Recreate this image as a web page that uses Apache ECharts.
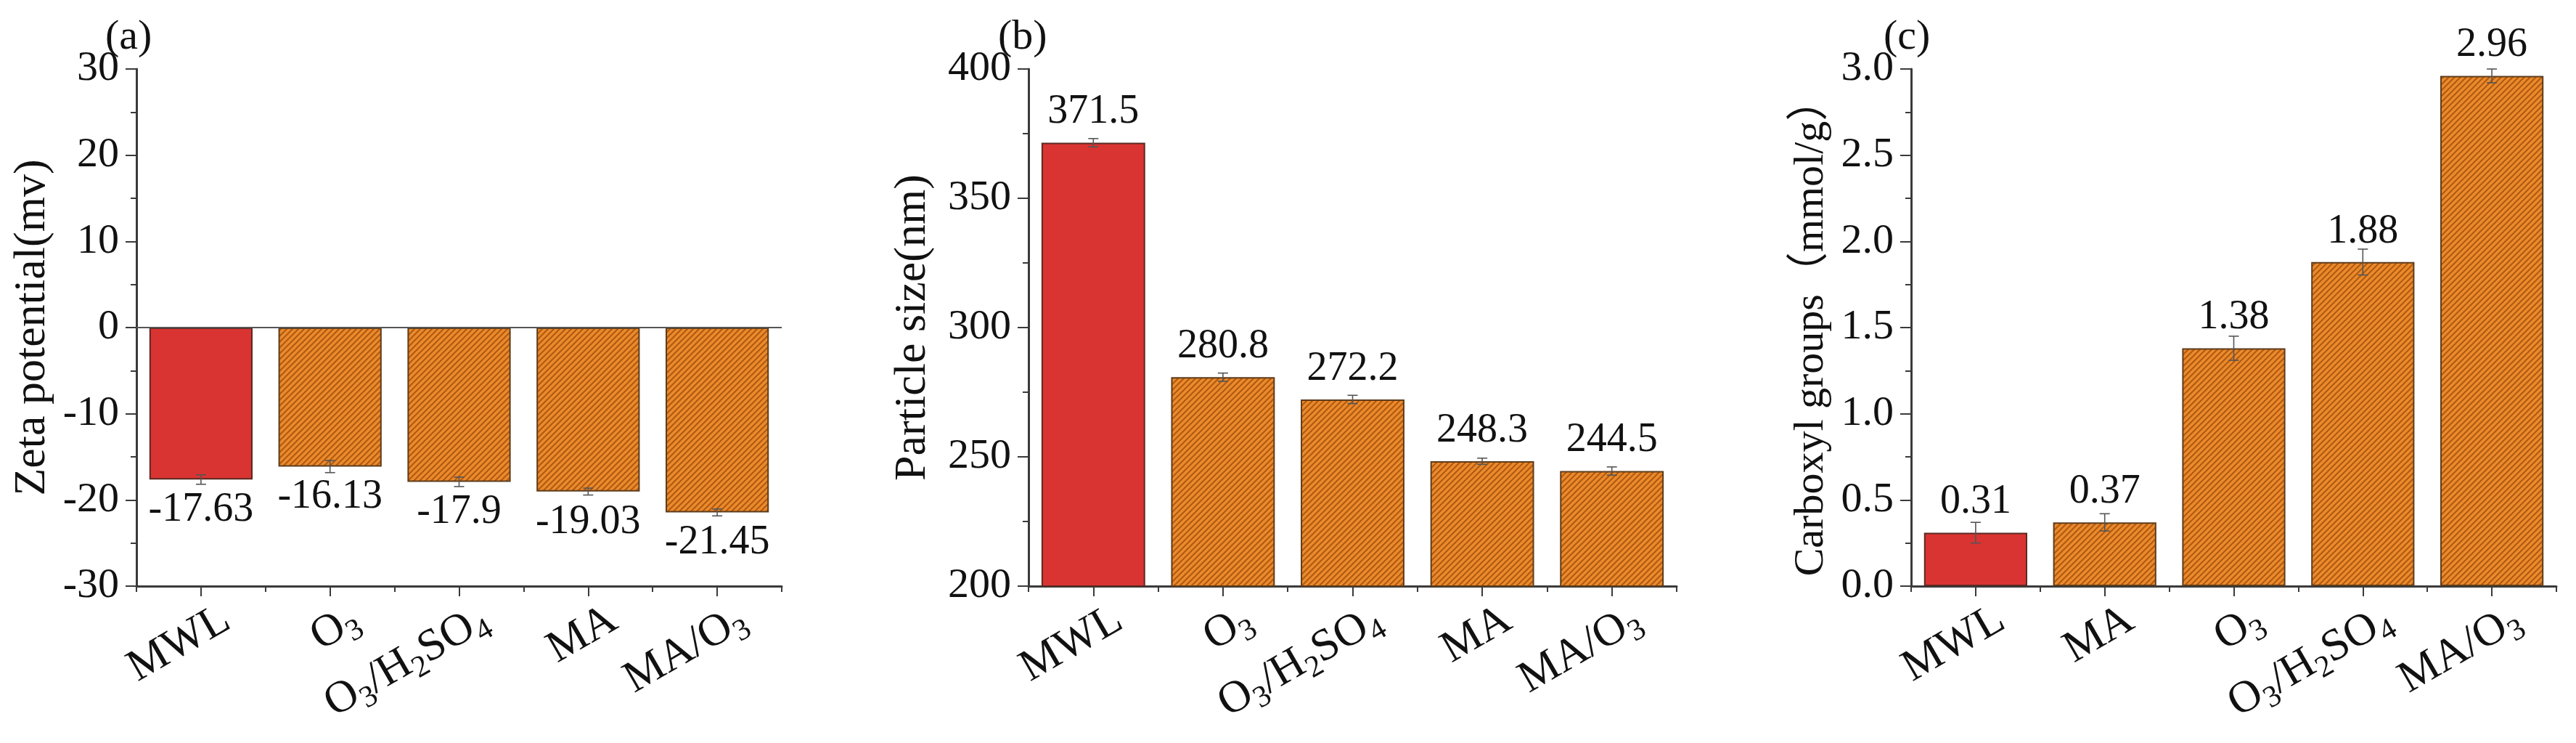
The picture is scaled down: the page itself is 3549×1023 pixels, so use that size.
<!DOCTYPE html>
<html>
<head>
<meta charset="utf-8">
<title>Zeta potential, particle size, carboxyl groups</title>
<script src="https://cdn.jsdelivr.net/npm/echarts@6/dist/echarts.min.js"></script>
<style>
  html, body { margin: 0; padding: 0; background: #fff; }
  #main { width: 3549px; height: 1023px; }
</style>
</head>
<body>
<div id="main"></div>
<script>
// ---- data ----
var catsA = ['MWL', 'O3', 'O3/H2SO4', 'MA', 'MA/O3'];
var zetaVals = [-17.63, -16.13, -17.9, -19.03, -21.45];
var zetaErr = [0.55, 0.7, 0.55, 0.4, 0.4];

var catsB = ['MWL', 'O3', 'O3/H2SO4', 'MA', 'MA/O3'];
var sizeVals = [371.5, 280.8, 272.2, 248.3, 244.5];
var sizeErr = [1.6, 1.6, 1.6, 1.2, 1.6];

var catsC = ['MWL', 'MA', 'O3', 'O3/H2SO4', 'MA/O3'];
var carbVals = [0.31, 0.37, 1.38, 1.88, 2.96];
var carbErr = [0.06, 0.05, 0.07, 0.075, 0.04];

var FONT = '"Liberation Serif", "Times New Roman", "Noto Sans CJK SC", serif';
var RED = '#da3432';
var ORANGE = '#ec8a2c';
var LBL_SHIFT = 0.2; // x labels sit a bit right of the tick

// diagonal hatch for the orange bars
function hatch() {
  var c = document.createElement('canvas');
  c.width = 8; c.height = 8;
  var g = c.getContext('2d');
  g.fillStyle = ORANGE;
  g.fillRect(0, 0, 8, 8);
  g.strokeStyle = '#ad5a12';
  g.lineWidth = 2;
  g.beginPath();
  g.moveTo(-2, 10); g.lineTo(10, -2);
  g.moveTo(-6, 6); g.lineTo(6, -6);
  g.moveTo(2, 14); g.lineTo(14, 2);
  g.stroke();
  return c;
}
var hatchPat = { image: hatch(), repeat: 'repeat' };

// O3 -> O{sub 3}
function subLabel(v) {
  return '{n|' + v.replace(/(\d)/g, '}{s|$1}{n|') + '}';
}
var richSub = {
  n: { fontFamily: FONT, fontSize: 62, color: '#111', lineHeight: 70 },
  s: { fontFamily: FONT, fontSize: 42, color: '#111', padding: [34, 0, 0, 0] }
};

var grids = [
  { left: 188, top: 95, width: 889, height: 712 },
  { left: 1417, top: 95, width: 893, height: 712 },
  { left: 2633, top: 95, width: 889, height: 712 }
];

var axisLine = { show: true, onZero: false, lineStyle: { color: '#3a3a3a', width: 3 } };

function catAxis(i, cats) {
  return {
    type: 'category', gridIndex: i, data: cats, position: 'bottom',
    axisLine: axisLine,
    axisTick: { show: true, alignWithLabel: true, length: 14, lineStyle: { color: '#3a3a3a', width: 2 } },
    axisLabel: { show: false }
  };
}
// second x axis: category names (slightly shifted) and the short ticks between bars
function labelAxis(i, cats) {
  var lv = cats.map(function (c, k) { return k + LBL_SHIFT; });
  var tv = [];
  for (var k = 0; k <= cats.length; k++) tv.push(k - 0.5);
  return {
    type: 'value', gridIndex: i, min: -0.5, max: cats.length - 0.5, position: 'bottom',
    axisLine: { show: false, onZero: false },
    axisTick: { show: true, length: 8, customValues: tv, lineStyle: { color: '#3a3a3a', width: 2 } },
    axisLabel: {
      show: true, customValues: lv, rotate: 30, margin: 42, rich: richSub,
      formatter: function (v) { return subLabel(cats[Math.round(v - LBL_SHIFT)]); }
    },
    splitLine: { show: false }
  };
}
function valAxis(i, min, max, step, name, gap, nameSize, fmt) {
  return {
    type: 'value', gridIndex: i, min: min, max: max, interval: step,
    name: name, nameLocation: 'middle', nameGap: gap,
    nameTextStyle: { fontFamily: FONT, fontSize: nameSize, color: '#111' },
    axisLine: axisLine,
    axisTick: { show: true, length: 15, lineStyle: { color: '#3a3a3a', width: 2 } },
    minorTick: { show: true, splitNumber: 2, length: 8, lineStyle: { color: '#3a3a3a', width: 2 } },
    axisLabel: { fontFamily: FONT, fontSize: 58, color: '#111', margin: 24, formatter: fmt },
    splitLine: { show: false }
  };
}

function barSeries(i, vals, pos, decimals) {
  return {
    type: 'bar', xAxisIndex: i * 2, yAxisIndex: i,
    barCategoryGap: '20%',
    data: vals.map(function (v, k) {
      return {
        value: v,
        itemStyle: k === 0
          ? { color: RED, borderColor: '#5a2a22', borderWidth: 2 }
          : { color: hatchPat, borderColor: '#5e3c1c', borderWidth: 2 }
      };
    }),
    label: {
      show: true, position: pos, distance: 14,
      fontFamily: FONT, fontSize: 56, color: '#111',
      formatter: function (p) { return decimals ? p.value.toFixed(decimals) : String(p.value); }
    }
  };
}

function errSeries(i, vals, errs) {
  return {
    type: 'custom', xAxisIndex: i * 2, yAxisIndex: i, z: 5,
    data: vals.map(function (v, k) { return [k, v, errs[k]]; }),
    renderItem: function (params, api) {
      var x = api.value(0), v = api.value(1), e = api.value(2);
      var hi = api.coord([x, v + e]);
      var lo = api.coord([x, v - e]);
      var st = { stroke: '#555', lineWidth: 1.6 };
      return {
        type: 'group',
        children: [
          { type: 'line', shape: { x1: hi[0], y1: hi[1], x2: lo[0], y2: lo[1] }, style: st },
          { type: 'line', shape: { x1: hi[0] - 7, y1: hi[1], x2: hi[0] + 7, y2: hi[1] }, style: st },
          { type: 'line', shape: { x1: lo[0] - 7, y1: lo[1], x2: lo[0] + 7, y2: lo[1] }, style: st }
        ]
      };
    }
  };
}

var chart = echarts.init(document.getElementById('main'));
var zetaBars = barSeries(0, zetaVals, 'bottom', 0);
zetaBars.markLine = {
  silent: true, symbol: 'none', label: { show: false },
  lineStyle: { color: '#555', width: 2, type: 'solid' },
  data: [{ yAxis: 0 }]
};

var titleStyle = { fontFamily: FONT, fontWeight: 'normal', fontSize: 58, color: '#111' };
chart.setOption({
  backgroundColor: '#fff',
  animation: false,
  title: [
    { text: '(a)', left: 140, top: 18, textStyle: titleStyle },
    { text: '(b)', left: 1370, top: 18, textStyle: titleStyle },
    { text: '(c)', left: 2590, top: 18, textStyle: titleStyle }
  ],
  grid: grids,
  xAxis: [
    catAxis(0, catsA), labelAxis(0, catsA),
    catAxis(1, catsB), labelAxis(1, catsB),
    catAxis(2, catsC), labelAxis(2, catsC)
  ],
  yAxis: [
    valAxis(0, -30, 30, 10, 'Zeta potential(mv)', 112, 62),
    valAxis(1, 200, 400, 50, 'Particle size(nm)', 128, 62),
    valAxis(2, 0, 3, 0.5, 'Carboxyl groups（mmol/g）', 108, 58, function (v) { return v.toFixed(1); })
  ],
  series: [
    zetaBars, errSeries(0, zetaVals, zetaErr),
    barSeries(1, sizeVals, 'top', 0), errSeries(1, sizeVals, sizeErr),
    barSeries(2, carbVals, 'top', 2), errSeries(2, carbVals, carbErr)
  ]
});
</script>
</body>
</html>
